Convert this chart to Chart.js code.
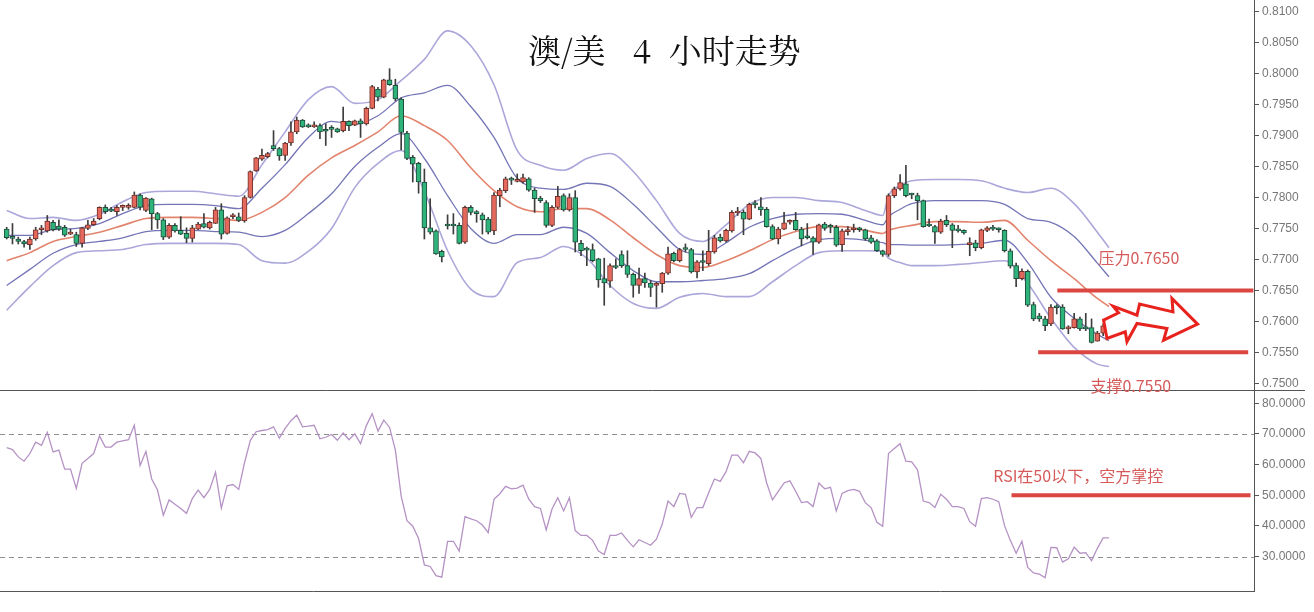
<!DOCTYPE html>
<html><head><meta charset="utf-8">
<script src="https://cdn.jsdelivr.net/npm/chart.js@4.4.1/dist/chart.umd.min.js"></script>
<style>
html,body{margin:0;padding:0;background:#fff;width:1314px;height:612px;overflow:hidden;position:relative;}
#wrapRsi{position:absolute;left:0;top:390px;width:1314px;height:222px;}
#wrapMain{position:absolute;left:0;top:0;width:1314px;height:400px;}
#title{position:absolute;left:528px;top:32px;font-family:'Noto Serif CJK SC','Noto Sans CJK SC';font-size:33px;line-height:33px;color:#111;white-space:nowrap;}
#title span{display:inline-block;}
</style></head><body>
<div id="wrapRsi"><canvas id="rsi" width="1314" height="222"></canvas></div>
<div id="wrapMain"><canvas id="main" width="1314" height="400"></canvas></div>
<div id="title"><span>澳/美</span><span style="margin-left:27px">4</span><span style="margin-left:18px">小时走势</span></div>
<script>
// ---------- DATA ----------
const open = [.7749,.7735,.7733,.7729,.7724,.7733,.7748,.7746,.7760,.7754,
.7752,.7741,.7740,.7726,.7750,.7756,.7766,.7784,.7779,.7777,
.7784,.7784,.7784,.7804,.7779,.7798,.7774,.7764,.7736,.7755,
.7747,.7742,.7734,.7749,.7758,.7751,.7758,.7780,.7742,.7769,
.7769,.7762,.7800,.7843,.7862,.7866,.7884,.7879,.7868,.7888,
.7906,.7925,.7915,.7914,.7916,.7908,.7911,.7911,.7908,.7923,
.7917,.7924,.7919,.7944,.7975,.7962,.7990,.7981,.7959,.7904,
.7865,.7855,.7825,.7751,.7746,.7713,.7755,.7755,.7755,.7728,
.7784,.7775,.7772,.7765,.7746,.7803,.7811,.7829,.7826,.7825,
.7830,.7812,.7799,.7792,.7755,.7784,.7803,.7780,.7800,.7726,
.7716,.7716,.7701,.7669,.7665,.7690,.7708,.7690,.7676,.7658,
.7669,.7662,.7658,.7661,.7678,.7710,.7698,.7717,.7716,.7680,
.7696,.7693,.7712,.7736,.7730,.7746,.7775,.7776,.7765,.7789,
.7785,.7781,.7753,.7733,.7749,.7760,.7763,.7749,.7736,.7735,
.7728,.7757,.7753,.7752,.7724,.7745,.7748,.7749,.7748,.7735,
.7730,.7714,.7708,.7803,.7814,.7822,.7805,.7803,.7795,.7755,
.7753,.7744,.7763,.7756,.7747,.7747,.7724,.7727,.7719,.7747,
.7750,.7749,.7747,.7714,.7690,.7669,.7681,.7627,.7609,.7604,
.7596,.7623,.7623,.7588,.7590,.7604,.7589,.7590,.7568,.7581,
.7596];
const high = [.7752,.7758,.7736,.7731,.7736,.7752,.7755,.7771,.7763,.7764,
.7755,.7749,.7744,.7752,.7763,.7766,.7785,.7788,.7784,.7787,
.7788,.7790,.7809,.7806,.7800,.7799,.7776,.7766,.7758,.7758,
.7769,.7751,.7755,.7760,.7774,.7762,.7784,.7790,.7769,.7774,
.7775,.7803,.7843,.7865,.7878,.7873,.7908,.7881,.7889,.7922,
.7930,.7926,.7919,.7922,.7919,.7919,.7916,.7912,.7946,.7924,
.7925,.7927,.7946,.7981,.7978,.7991,.8008,.7991,.7961,.7907,
.7868,.7857,.7846,.7798,.7748,.7715,.7772,.7774,.7759,.7786,
.7787,.7779,.7775,.7768,.7808,.7815,.7833,.7833,.7838,.7838,
.7832,.7815,.7802,.7795,.7787,.7818,.7806,.7806,.7811,.7731,
.7720,.7725,.7702,.7702,.7693,.7701,.7714,.7714,.7678,.7686,
.7678,.7666,.7663,.7679,.7720,.7712,.7718,.7725,.7718,.7698,
.7714,.7747,.7739,.7741,.7749,.7779,.7784,.7780,.7791,.7795,
.7800,.7784,.7756,.7752,.7776,.7764,.7776,.7752,.7758,.7737,
.7757,.7760,.7757,.7755,.7749,.7753,.7757,.7752,.7749,.7739,
.7732,.7715,.7806,.7817,.7837,.7852,.7807,.7807,.7796,.7765,
.7755,.7765,.7771,.7758,.7755,.7748,.7735,.7731,.7749,.7753,
.7755,.7751,.7748,.7717,.7694,.7685,.7683,.7631,.7613,.7608,
.7627,.7627,.7627,.7593,.7613,.7607,.7613,.7604,.7584,.7596,
.7601];
const low = [.7733,.7725,.7725,.7720,.7716,.7731,.7740,.7744,.7746,.7747,
.7737,.7740,.7721,.7720,.7748,.7755,.7764,.7774,.7777,.7771,
.7779,.7781,.7783,.7780,.7777,.7748,.7750,.7732,.7734,.7744,
.7740,.7727,.7728,.7748,.7751,.7749,.7758,.7733,.7741,.7766,
.7761,.7760,.7799,.7842,.7860,.7864,.7876,.7860,.7860,.7884,
.7903,.7913,.7913,.7913,.7895,.7884,.7897,.7905,.7906,.7908,
.7916,.7897,.7917,.7943,.7956,.7961,.7981,.7956,.7877,.7861,
.7825,.7807,.7733,.7741,.7708,.7696,.7749,.7741,.7725,.7726,
.7772,.7760,.7741,.7741,.7740,.7785,.7808,.7821,.7825,.7823,
.7810,.7776,.7792,.7752,.7753,.7782,.7778,.7778,.7712,.7706,
.7690,.7696,.7655,.7626,.7655,.7685,.7687,.7671,.7639,.7645,
.7655,.7640,.7623,.7647,.7676,.7696,.7696,.7712,.7678,.7670,
.7682,.7690,.7710,.7728,.7728,.7744,.7771,.7740,.7764,.7783,
.7771,.7752,.7732,.7725,.7748,.7757,.7747,.7722,.7733,.7708,
.7726,.7747,.7743,.7721,.7713,.7739,.7744,.7745,.7731,.7726,
.7713,.7705,.7705,.7800,.7812,.7801,.7798,.7764,.7752,.7753,
.7726,.7742,.7753,.7719,.7744,.7741,.7706,.7714,.7717,.7745,
.7747,.7744,.7712,.7686,.7656,.7667,.7624,.7601,.7600,.7585,
.7593,.7612,.7587,.7580,.7589,.7585,.7585,.7565,.7568,.7577,
.7591];
const close = [.7735,.7734,.7729,.7725,.7733,.7748,.7750,.7762,.7748,.7749,
.7739,.7742,.7726,.7751,.7756,.7762,.7784,.7777,.7778,.7784,
.7785,.7787,.7804,.7784,.7799,.7774,.7764,.7736,.7755,.7746,
.7741,.7734,.7751,.7757,.7752,.7760,.7780,.7741,.7767,.7770,
.7763,.7800,.7842,.7864,.7868,.7871,.7879,.7867,.7888,.7906,
.7925,.7914,.7914,.7917,.7906,.7907,.7910,.7906,.7923,.7916,
.7924,.7919,.7944,.7979,.7962,.7990,.7982,.7959,.7905,.7863,
.7854,.7825,.7751,.7744,.7709,.7704,.7754,.7754,.7726,.7784,
.7776,.7774,.7764,.7744,.7804,.7812,.7830,.7828,.7827,.7832,
.7812,.7798,.7795,.7755,.7784,.7802,.7780,.7800,.7728,.7714,
.7715,.7698,.7667,.7662,.7690,.7687,.7690,.7676,.7658,.7669,
.7662,.7655,.7661,.7678,.7709,.7698,.7716,.7716,.7680,.7696,
.7695,.7713,.7735,.7730,.7747,.7776,.7776,.7765,.7789,.7788,
.7780,.7753,.7733,.7749,.7759,.7761,.7748,.7733,.7735,.7728,
.7756,.7750,.7752,.7723,.7746,.7746,.7750,.7748,.7733,.7728,
.7714,.7708,.7803,.7814,.7824,.7803,.7804,.7795,.7753,.7754,
.7744,.7762,.7756,.7747,.7746,.7743,.7727,.7719,.7748,.7751,
.7749,.7748,.7714,.7689,.7669,.7681,.7626,.7604,.7604,.7593,
.7623,.7622,.7588,.7590,.7604,.7588,.7588,.7566,.7581,.7593,
.7595];

// Bollinger bands read at sampled candle indices
const bandIdx = [0,4,8,12,16,20,24,28,32,36,40,44,48,52,56,60,64,68,72,76,80,84,88,92,96,100,104,108,112,116,120,124,128,132,136,140,144,148,151,152,154,156,160,164,168,172,176,180,184,188,190];
const bandOuterUp = [.7779,.7766,.7768,.7763,.7773,.7793,.7808,.7810,.7810,.7806,.7802,.7853,.7906,.7958,.7979,.7952,.7958,.7989,.8023,.8069,.8045,.7982,.7876,.7852,.7844,.7863,.7871,.7842,.7795,.7742,.7729,.7756,.7789,.7800,.7800,.7795,.7792,.7779,.7771,.7803,.7819,.7827,.7829,.7829,.7827,.7815,.7808,.7815,.7790,.7744,.7719];
const bandInnerUp = [.7739,.7739,.7748,.7750,.7758,.7774,.7787,.7789,.7789,.7787,.7782,.7815,.7853,.7897,.7923,.7918,.7932,.7961,.7969,.7981,.7947,.7897,.7831,.7815,.7813,.7823,.7818,.7789,.7752,.7716,.7708,.7727,.7752,.7766,.7773,.7774,.7773,.7763,.7756,.7769,.7781,.7790,.7795,.7795,.7795,.7789,.7766,.7760,.7737,.7694,.7672];
const bandMid = [.7698,.7711,.7729,.7737,.7744,.7755,.7766,.7768,.7768,.7766,.7763,.7776,.7800,.7836,.7864,.7884,.7906,.7932,.7916,.7892,.7848,.7811,.7785,.7777,.7782,.7782,.7764,.7735,.7708,.7690,.7687,.7698,.7714,.7732,.7745,.7753,.7753,.7747,.7742,.7747,.7752,.7755,.7761,.7761,.7760,.7763,.7731,.7698,.7669,.7637,.7624];
const bandInnerLow = [.7658,.7684,.7710,.7724,.7729,.7735,.7745,.7747,.7747,.7745,.7744,.7737,.7747,.7774,.7806,.7850,.7881,.7903,.7863,.7803,.7750,.7726,.7740,.7740,.7752,.7742,.7711,.7682,.7664,.7664,.7666,.7669,.7677,.7698,.7718,.7732,.7734,.7731,.7727,.7724,.7724,.7723,.7723,.7724,.7726,.7731,.7695,.7639,.7605,.7579,.7569];
const bandOuterLow = [.7618,.7656,.7690,.7711,.7714,.7716,.7724,.7726,.7726,.7726,.7724,.7698,.7694,.7713,.7750,.7816,.7855,.7876,.7810,.7714,.7652,.7640,.7695,.7703,.7721,.7702,.7658,.7629,.7621,.7639,.7645,.7640,.7640,.7664,.7690,.7711,.7714,.7714,.7713,.7702,.7695,.7690,.7690,.7692,.7695,.7698,.7661,.7605,.7558,.7531,.7527];

const rsi = [65.5,64.9,62.5,61.1,63.6,67.3,66.3,70.5,64.1,64.7,
58.5,58.5,52.2,60.4,62.0,63.6,69.3,65.7,65.7,67.3,
67.7,68.1,72.8,59.7,64.3,55.3,51.7,43.5,48.5,47.1,
45.7,44.1,48.9,51.7,49.2,51.9,57.5,45.8,53.1,53.5,
51.9,60.6,67.9,70.7,71.1,71.4,72.3,68.6,71.8,74.3,
76.1,72.3,72.5,72.8,68.4,68.9,69.8,67.9,70.3,68.1,
70.0,66.8,72.7,76.6,70.9,74.5,72.1,64.7,49.7,41.7,
39.9,35.9,27.3,26.8,23.8,23.3,35.0,35.0,31.8,43.0,
42.3,41.7,40.3,37.8,48.7,50.5,52.9,52.1,52.3,53.3,
48.7,46.3,45.7,38.7,45.5,49.2,44.9,49.2,38.5,36.9,
36.9,35.3,31.8,30.7,36.9,36.9,37.7,35.3,33.2,35.5,
34.6,33.7,35.7,40.6,48.1,46.3,50.6,50.3,42.8,46.0,
46.0,50.8,55.3,54.5,57.7,63.1,63.1,60.6,64.3,63.8,
62.0,54.0,48.5,51.3,54.0,54.7,51.3,47.6,47.9,46.3,
54.0,52.1,52.6,44.9,50.6,51.5,51.9,51.3,47.6,46.0,
41.2,39.9,63.6,65.2,66.8,61.1,60.9,58.3,48.1,47.6,
46.0,50.3,48.7,46.3,46.3,45.7,41.4,39.9,48.9,49.2,
48.7,47.9,40.1,35.3,31.1,35.0,26.5,24.7,24.3,23.1,
33.0,32.9,28.2,29.3,33.1,31.1,31.3,28.7,32.7,36.1,
36.1];

const priceTicks = [0.7500,0.7550,0.7600,0.7650,0.7700,0.7750,0.7800,0.7850,0.7900,0.7950,0.8000,0.8050,0.8100];
const rsiTicks = [30,40,50,60,70,80];
const rsiGuides = [70,30];
const levels = [0.7650, 0.7550];
const levelLabels = ['压力0.7650', '支撑0.7550'];
const rsiLevel = 50;
const rsiLabel = 'RSI在50以下，空方掌控';

// ---------- STYLE ----------
const UP_FILL = '#E4685B', UP_EDGE = '#6e3029';
const DN_FILL = '#2EB37B', DN_EDGE = '#1f4c3b';
const WICK = '#3d3d3d';
const RED = '#DB4643', TXT_RED = '#D65A5A';
const AXIS = '#555';
const TICK_FONT = {family: 'Liberation Sans', size: 12};
const X_MIN = -1.15, X_MAX = 215;

const idx = open.map((_, i) => i);
const isUp = i => close[i] >= open[i];

const band = (arr, color, w) => ({
  type: 'line', data: bandIdx.map((x, k) => ({x, y: arr[k]})),
  borderColor: color, borderWidth: w, pointRadius: 0, fill: false,
  cubicInterpolationMode: 'monotone', order: 3
});

const noPad = s => { s.width = 60; s.paddingTop = 0; s.paddingBottom = 0; };

const mainDecor = {
  id: 'mainDecor',
  afterDatasetsDraw(chart) {
    const {ctx, chartArea, scales: {x, y}} = chart;
    ctx.save();
    ctx.strokeStyle = AXIS; ctx.lineWidth = 1;
    ctx.beginPath(); ctx.moveTo(0, chartArea.bottom + 0.5); ctx.lineTo(1305, chartArea.bottom + 0.5); ctx.stroke();
    const spans = [[181.1, 214.9], [177.8, 214.0]];
    ctx.strokeStyle = RED; ctx.lineWidth = 4;
    levels.forEach((v, k) => {
      const py = y.getPixelForValue(v);
      ctx.beginPath(); ctx.moveTo(x.getPixelForValue(spans[k][0]), py); ctx.lineTo(x.getPixelForValue(spans[k][1]), py); ctx.stroke();
    });
    ctx.fillStyle = TXT_RED; ctx.font = "16px 'Noto Sans CJK SC'"; ctx.textBaseline = 'middle'; ctx.textAlign = 'left';
    const labPos = [[188.2, 0.7703], [186.8, 0.7495]];
    levelLabels.forEach((t, k) => ctx.fillText(t, x.getPixelForValue(labPos[k][0]), y.getPixelForValue(labPos[k][1])));
    const ax = x.getPixelForValue(189.07), ay = y.getPixelForValue(0.7602);
    const pts = [[0,0],[15,-7.3],[9.4,-14],[33.4,-5],[36,-16],[69.4,-8.3],[68.4,-21.7],[94,4],[60,20],[63.4,8.3],[33.4,3.3],[23.4,21.7],[21.7,11.7],[3.4,18.3]];
    ctx.beginPath();
    pts.forEach((p, k) => k ? ctx.lineTo(ax + p[0], ay + p[1]) : ctx.moveTo(ax + p[0], ay + p[1]));
    ctx.closePath();
    ctx.fillStyle = '#fff'; ctx.fill();
    ctx.strokeStyle = '#E8231E'; ctx.lineWidth = 3; ctx.lineJoin = 'miter'; ctx.stroke();
    ctx.restore();
  }
};

new Chart(document.getElementById('main'), {
  type: 'bar',
  data: {
    datasets: [
      {type: 'bar', data: idx.map(i => ({x: i, y: [low[i], high[i]]})), backgroundColor: WICK, borderWidth: 0, barThickness: 1, grouped: false, order: 2},
      {type: 'bar', data: idx.map(i => ({x: i, y: [open[i], close[i]]})),
       backgroundColor: idx.map(i => isUp(i) ? UP_FILL : DN_FILL),
       borderColor: idx.map(i => isUp(i) ? UP_EDGE : DN_EDGE),
       borderWidth: 1, borderSkipped: false, barThickness: 5, minBarLength: 2, grouped: false, order: 1},
      band(bandOuterUp, '#ABA7DA', 1.6),
      band(bandInnerUp, '#7475B6', 1.3),
      band(bandMid, '#E2846D', 1.6),
      band(bandInnerLow, '#7475B6', 1.3),
      band(bandOuterLow, '#ABA7DA', 1.6)
    ]
  },
  options: {
    responsive: false, animation: false, devicePixelRatio: 1,
    layout: {padding: {left: 0, right: 0, top: 0, bottom: 10}},
    plugins: {legend: {display: false}, tooltip: {enabled: false}},
    scales: {
      x: {type: 'linear', min: X_MIN, max: X_MAX, display: false, offset: false},
      y: {position: 'right', min: 0.74892, max: 0.81189,
          afterBuildTicks: s => { s.ticks = priceTicks.map(v => ({value: v})); },
          afterFit: noPad,
          ticks: {callback: v => Number(v).toFixed(4), color: '#777', font: TICK_FONT, padding: 3},
          grid: {drawOnChartArea: false, drawTicks: true, tickLength: 5, color: AXIS},
          border: {display: true, color: AXIS}}
    }
  },
  plugins: [mainDecor]
});

const rsiDecor = {
  id: 'rsiDecor',
  beforeDatasetsDraw(chart) {
    const {ctx, chartArea, scales: {y}} = chart;
    ctx.save();
    ctx.strokeStyle = '#8f8f8f'; ctx.lineWidth = 1; ctx.setLineDash([5, 4]);
    rsiGuides.forEach(v => {
      const py = Math.round(y.getPixelForValue(v)) + 0.5;
      ctx.beginPath(); ctx.moveTo(chartArea.left, py); ctx.lineTo(chartArea.right, py); ctx.stroke();
    });
    ctx.restore();
  },
  afterDatasetsDraw(chart) {
    const {ctx, chartArea, scales: {x, y}} = chart;
    ctx.save();
    ctx.strokeStyle = AXIS; ctx.lineWidth = 1;
    ctx.beginPath(); ctx.moveTo(0, chartArea.bottom + 0.5); ctx.lineTo(chartArea.right, chartArea.bottom + 0.5); ctx.stroke();
    const py = y.getPixelForValue(rsiLevel);
    ctx.strokeStyle = RED; ctx.lineWidth = 4;
    ctx.beginPath(); ctx.moveTo(x.getPixelForValue(173.2), py); ctx.lineTo(x.getPixelForValue(214.4), py); ctx.stroke();
    ctx.fillStyle = TXT_RED; ctx.font = "16px 'Noto Sans CJK SC'"; ctx.textBaseline = 'middle'; ctx.textAlign = 'left';
    ctx.fillText(rsiLabel, x.getPixelForValue(170.05), y.getPixelForValue(56.3));
    ctx.restore();
  }
};

new Chart(document.getElementById('rsi'), {
  type: 'line',
  data: {datasets: [{data: idx.map(i => ({x: i, y: rsi[i]})), borderColor: '#B592C4', borderWidth: 1.3, pointRadius: 0, fill: false, tension: 0}]},
  options: {
    responsive: false, animation: false, devicePixelRatio: 1,
    layout: {padding: {left: 0, right: 0, top: 0, bottom: 21}},
    plugins: {legend: {display: false}, tooltip: {enabled: false}},
    scales: {
      x: {type: 'linear', min: X_MIN, max: X_MAX, display: false},
      y: {position: 'right', min: 18.8, max: 84.3,
          afterBuildTicks: s => { s.ticks = rsiTicks.map(v => ({value: v})); },
          afterFit: noPad,
          ticks: {callback: v => Number(v).toFixed(4), color: '#777', font: TICK_FONT, padding: 3},
          grid: {drawOnChartArea: false, drawTicks: true, tickLength: 5, color: AXIS},
          border: {display: true, color: AXIS}}
    }
  },
  plugins: [rsiDecor]
});
</script>
</body></html>
